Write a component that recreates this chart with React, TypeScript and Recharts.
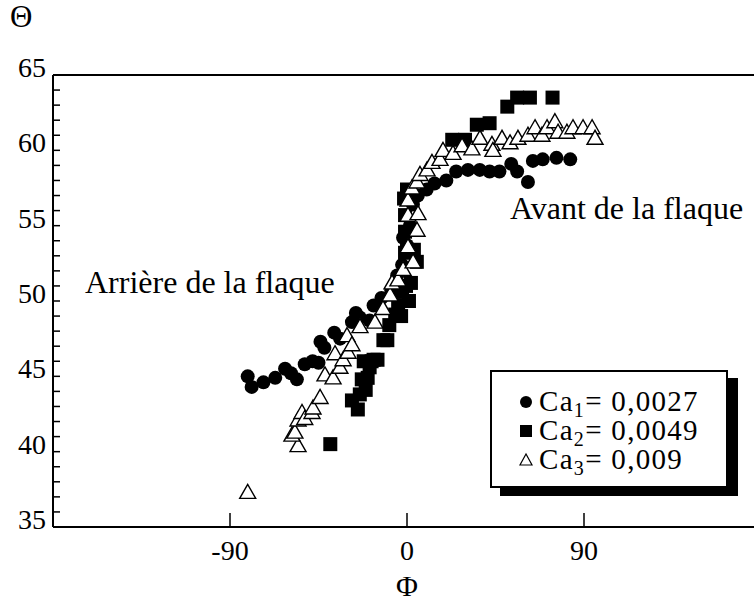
import { ScatterChart, Scatter, XAxis, YAxis, ReferenceLine, Label } from "recharts";

const FONT = '"Liberation Serif", "Times New Roman", serif';

const xTicks = [-90, 0, 90];
const yTicks = [35, 36, 37, 38, 39, 40, 41, 42, 43, 44, 45, 46, 47, 48, 49, 50, 51, 52, 53, 54, 55, 56, 57, 58, 59, 60, 61, 62, 63, 64, 65];
const yLabels = [35, 40, 45, 50, 55, 60, 65];

// Ca1 = 0,0027 (filled circles)
const ca1Phi = [-81, -79, -73, -67, -62, -59, -56, -52, -48, -45, -44, -42, -37, -34, -28, -26, -24, -19, -17, -13, -8, -5, -2.5, -2, 0, 1.5, 3, 5.5, 10, 14, 20, 25, 31, 37, 42, 47, 53, 56, 61.5, 64, 69, 76, 83];
const ca1Theta = [45.0, 44.3, 44.6, 44.9, 45.5, 45.2, 44.8, 45.8, 46.0, 45.9, 47.3, 46.9, 47.9, 47.5, 48.6, 49.2, 48.9, 48.7, 49.7, 50.2, 50.7, 51.7, 52.4, 54.2, 53.7, 55.0, 56.4, 57.0, 57.4, 57.8, 58.0, 58.6, 58.7, 58.7, 58.6, 58.6, 59.1, 58.6, 57.9, 59.3, 59.4, 59.5, 59.4];

// Ca2 = 0,0049 (filled squares)
const ca2Phi = [-39, -28, -25, -24, -21, -23, -20, -19, -22, -15, -18, -17, -12, -10, -9, -6, -4.5, -3, -2.5, 1, -0.5, 2, -1, -1, -1, -1.5, 0, 3.5, 5, 23, 29.5, 35.5, 42, 51, 56, 62.5, 74];
const ca2Theta = [40.5, 43.4, 42.8, 43.8, 44.1, 44.8, 44.9, 45.6, 46.0, 46.1, 46.0, 46.1, 47.4, 47.4, 48.4, 49.1, 49.7, 49.0, 50.6, 50.0, 51.0, 51.2, 53.2, 54.6, 55.7, 56.8, 57.4, 53.4, 52.6, 60.7, 60.7, 61.7, 61.8, 62.9, 63.5, 63.5, 63.5];

// Ca3 = 0,009 (open triangles)
const ca3Phi = [-81, -55.4, -58.5, -57, -55.4, -53.4, -52, -48.3, -47.8, -44.2, -41.7, -37.6, -36.6, -34.1, -32.5, -30.5, -30, -28, -23.9, -16.3, -12.2, -8.6, -7.6, -4.6, -2, 3.1, 0.5, 5.1, 0.5, 5.6, 0.5, 2.5, 5.1, 6.6, 10.2, 12.7, 16.8, 18.3, 23.4, 28, 33, 37.1, 43.2, 43.7, 48.3, 52.4, 56.4, 61.5, 65.1, 68.6, 71.2, 75.2, 76.8, 81.3, 84.4, 89.5, 94.1, 95.6];
const ca3Theta = [37.3, 40.4, 41.1, 41.3, 42.1, 42.6, 42.2, 42.6, 42.9, 43.6, 45.1, 44.9, 46.5, 45.6, 46.1, 47.7, 46.6, 47.1, 48.3, 48.6, 49.5, 50.4, 51.2, 51.4, 52.1, 52.6, 53.6, 54.7, 55.7, 55.8, 56.7, 57.5, 57.9, 58.4, 58.7, 59.2, 59.4, 60.0, 59.8, 60.3, 60.1, 60.8, 60.4, 60.0, 60.8, 60.5, 60.8, 61.0, 61.5, 61.0, 61.5, 61.9, 61.2, 61.2, 61.5, 61.5, 61.5, 60.8];

const toPoints = (phi: number[], theta: number[]) => phi.map((x, i) => ({ x, y: theta[i] }));

function CircleMark({ cx, cy }: any) {
  return <circle cx={cx} cy={cy} r={7} fill="#000" />;
}

function SquareMark({ cx, cy }: any) {
  return <rect x={cx - 7} y={cy - 7} width={14} height={14} fill="#000" />;
}

function TriangleMark({ cx, cy }: any) {
  return (
    <polygon
      points={`${cx},${cy - 8} ${cx - 8},${cy + 6} ${cx + 8},${cy + 6}`}
      fill="#fff"
      stroke="#000"
      strokeWidth={1.4}
    />
  );
}

const series = [
  { name: "1", value: "0,0027", data: toPoints(ca1Phi, ca1Theta), shape: CircleMark },
  { name: "2", value: "0,0049", data: toPoints(ca2Phi, ca2Theta), shape: SquareMark },
  { name: "3", value: "0,009", data: toPoints(ca3Phi, ca3Theta), shape: TriangleMark },
];

function YTick({ x, y, payload }: any) {
  const v = payload.value;
  return (
    <g>
      <line x1={x} x2={x + 7} y1={y} y2={y} stroke="#000" strokeWidth={1.5} />
      {yLabels.includes(v) && (
        <text x={x - 7} y={y + 2} textAnchor="end" fontFamily={FONT} fontSize={28} fill="#000">
          {v}
        </text>
      )}
    </g>
  );
}

function XTick({ x, y, payload }: any) {
  return (
    <g>
      <line x1={x} x2={x} y1={y} y2={y - 14} stroke="#000" strokeWidth={1.5} />
      <text x={x} y={y + 33} textAnchor="middle" fontFamily={FONT} fontSize={28} fill="#000">
        {payload.value}
      </text>
    </g>
  );
}

function LegendIcon({ i }: { i: number }) {
  return (
    <svg width={16} height={16} style={{ display: "block" }}>
      {i === 0 && <circle cx={8} cy={8} r={6} fill="#000" />}
      {i === 1 && <rect x={2} y={2} width={12} height={12} fill="#000" />}
      {i === 2 && <polygon points="8,2 2,13 14,13" fill="#fff" stroke="#000" strokeWidth={1.2} />}
    </svg>
  );
}

const text = (left: number, top: number, size: number): React.CSSProperties => ({
  position: "absolute",
  left,
  top,
  fontFamily: FONT,
  fontSize: size,
  lineHeight: 1,
  whiteSpace: "nowrap",
  color: "#000",
});

export default function App() {
  return (
    <div style={{ position: "absolute", left: 0, top: 0, width: 754, height: 606, overflow: "hidden", background: "#fff" }}>
      <ScatterChart width={780} height={606} margin={{ top: 75, right: 19, bottom: 39, left: 0 }}>
        <XAxis
          type="number"
          dataKey="x"
          domain={[-180, 180]}
          ticks={xTicks}
          interval={0}
          height={40}
          tickSize={0}
          tickMargin={0}
          tick={<XTick />}
          tickLine={false}
          axisLine={{ stroke: "#000", strokeWidth: 2 }}
          allowDataOverflow
        >
          <Label value="Φ" position="bottom" offset={8} fontFamily={FONT} fontSize={30} fill="#000" />
        </XAxis>
        <YAxis
          type="number"
          dataKey="y"
          domain={[35, 65]}
          ticks={yTicks}
          interval={0}
          width={53}
          tickSize={0}
          tickMargin={0}
          tick={<YTick />}
          tickLine={false}
          axisLine={{ stroke: "#000", strokeWidth: 2 }}
          allowDataOverflow
        />
        <ReferenceLine y={65} stroke="#000" strokeWidth={2} />
        {series.map((s) => (
          <Scatter key={s.name} data={s.data} shape={s.shape} isAnimationActive={false} />
        ))}
      </ScatterChart>

      <div style={text(10, 1, 31)}>Θ</div>
      <div style={text(85, 266, 32)}>Arrière de la flaque</div>
      <div style={text(510, 192, 32)}>Avant de la flaque</div>

      <div
        style={{
          position: "absolute",
          left: 490,
          top: 370,
          width: 238,
          height: 118,
          border: "2px solid #000",
          background: "#fff",
          boxShadow: "10px 8px 0 #000",
          paddingTop: 15,
          boxSizing: "border-box",
        }}
      >
        {series.map((s, i) => (
          <div key={s.name} style={{ display: "flex", alignItems: "center", height: 29, paddingLeft: 26 }}>
            <LegendIcon i={i} />
            <span style={{ marginLeft: 5, fontFamily: FONT, fontSize: 29, lineHeight: 1, letterSpacing: 1.3 }}>
              Ca<sub style={{ fontSize: 20, verticalAlign: -6, lineHeight: 0 }}>{s.name}</sub>={"\u00a0"}{s.value}
            </span>
          </div>
        ))}
      </div>
    </div>
  );
}
